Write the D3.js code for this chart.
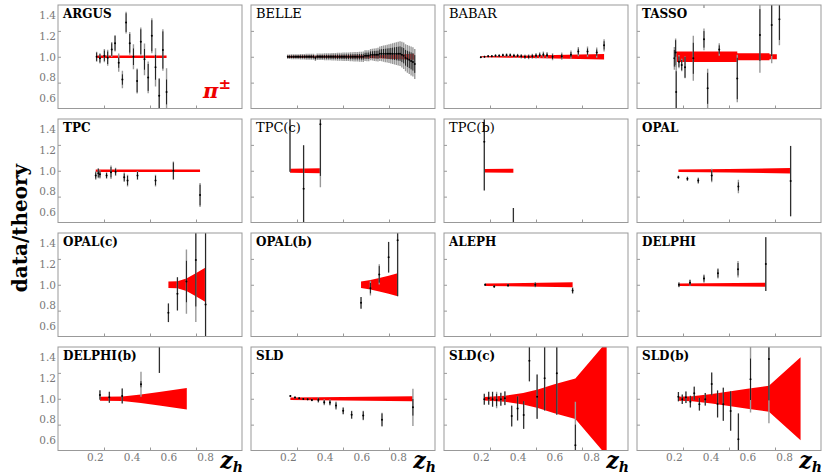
<!DOCTYPE html>
<html><head><meta charset="utf-8">
<script src="https://cdn.jsdelivr.net/npm/d3@7"></script>
<style>
body{margin:0;background:#fff;}
svg{display:block;}
</style></head><body>
<svg id="chart" width="830" height="475"></svg>
<script>
// points: [z, data/theory, stat err, total err]; bands: [z, half width]
var names = ['ARGUS','BELLE','BABAR','TASSO','TPC','TPC(c)','TPC(b)','OPAL',
             'OPAL(c)','OPAL(b)','ALEPH','DELPHI','DELPHI(b)','SLD','SLD(c)','SLD(b)'];
var boldTitle = [true, false, false, true, true, false, false, true,
                 true, true, true, true, true, true, true, true];
var xLabels = [0.2, 0.4, 0.6, 0.8];
var yLabels = [0.6, 0.8, 1.0, 1.2, 1.4];
var xTicks = [0.25, 0.5, 0.75];
var yTicks = [0.75, 1.0, 1.25];

var argus = [[0.21,1.00,0.04,0.048],[0.228,0.985,0.04,0.05],[0.252,1.01,0.05,0.064],[0.27,0.99,0.06,0.077],
  [0.292,1.07,0.06,0.072],[0.31,1.13,0.07,0.08],[0.33,0.943,0.05,0.089],[0.35,0.78,0.05,0.085],
  [0.37,1.33,0.09,0.105],[0.39,1.13,0.09,0.11],[0.41,1.0,0.08,0.12],[0.43,0.766,0.11,0.12],
  [0.45,1.145,0.12,0.137],[0.47,0.975,0.1,0.153],[0.49,0.80,0.13,0.153],[0.51,1.203,0.15,0.17],
  [0.53,0.898,0.12,0.185],[0.55,0.624,0.16,0.17],[0.57,1.065,0.18,0.2],[0.59,0.66,0.12,0.23]];
var argusBand = [[0.21,0.013],[0.59,0.013]];

var belle = [
  [0.20,1.00,0.012,0.022],[0.21,1.00,0.012,0.022],[0.22,1.00,0.012,0.023],[0.23,1.00,0.013,0.023],[0.24,1.00,0.013,0.024],
  [0.25,1.00,0.013,0.024],[0.26,1.00,0.014,0.025],[0.27,1.00,0.014,0.026],[0.28,1.00,0.014,0.027],[0.29,1.00,0.015,0.027],
  [0.30,1.00,0.015,0.028],[0.31,1.00,0.015,0.028],[0.32,1.00,0.016,0.029],[0.33,1.00,0.016,0.029],[0.34,1.00,0.016,0.030],
  [0.35,0.99,0.017,0.030],[0.36,1.00,0.017,0.031],[0.37,1.00,0.017,0.031],[0.38,1.00,0.018,0.032],[0.39,1.00,0.018,0.032],
  [0.40,1.00,0.018,0.033],[0.41,1.00,0.019,0.034],[0.42,1.00,0.019,0.034],[0.43,1.00,0.019,0.035],[0.44,1.00,0.020,0.036],
  [0.45,1.00,0.020,0.036],[0.46,1.00,0.020,0.037],[0.47,1.00,0.021,0.038],[0.48,1.00,0.021,0.038],[0.49,1.00,0.021,0.039],
  [0.50,1.00,0.022,0.040],[0.51,1.00,0.022,0.041],[0.52,1.00,0.023,0.041],[0.53,1.00,0.023,0.042],[0.54,1.00,0.024,0.043],
  [0.55,1.00,0.024,0.044],[0.56,1.00,0.025,0.045],[0.57,1.00,0.025,0.046],[0.58,1.00,0.026,0.047],[0.59,1.00,0.026,0.048],
  [0.60,1.00,0.027,0.049],[0.61,1.00,0.028,0.050],[0.62,1.01,0.029,0.052],[0.63,1.01,0.030,0.053],[0.64,1.01,0.031,0.054],
  [0.65,1.02,0.032,0.055],[0.66,1.02,0.033,0.057],[0.67,1.02,0.035,0.060],[0.68,1.02,0.037,0.063],[0.69,1.02,0.039,0.066],
  [0.70,1.03,0.041,0.070],[0.71,1.03,0.043,0.074],[0.72,1.03,0.045,0.078],[0.73,1.03,0.047,0.082],[0.74,1.03,0.050,0.086],
  [0.75,1.03,0.052,0.090],[0.76,1.03,0.055,0.095],[0.77,1.03,0.058,0.100],[0.78,1.03,0.061,0.105],[0.79,1.03,0.064,0.110],
  [0.80,1.03,0.067,0.115],[0.81,1.03,0.070,0.120],[0.82,1.02,0.072,0.125],[0.83,1.01,0.074,0.128],[0.84,0.99,0.076,0.131],
  [0.85,0.98,0.078,0.134],[0.86,0.97,0.080,0.137],[0.87,0.96,0.082,0.140],[0.88,0.95,0.084,0.142],[0.89,0.93,0.086,0.145]];
var belleBand = [[0.20,0.010],[0.50,0.013],[0.70,0.018],[0.89,0.030]];

var babar = [[0.20,0.995,0.006,0.008],[0.22,1.0,0.007,0.01],[0.24,1.005,0.008,0.012],[0.26,1.005,0.008,0.012],
  [0.28,1.01,0.01,0.014],[0.30,1.01,0.01,0.015],[0.32,1.015,0.011,0.016],[0.34,1.015,0.012,0.018],
  [0.36,1.015,0.012,0.018],[0.38,1.01,0.013,0.02],[0.40,1.01,0.013,0.02],[0.42,1.005,0.014,0.022],
  [0.44,1.0,0.014,0.022],[0.46,1.0,0.015,0.024],[0.48,1.005,0.016,0.025],[0.50,1.01,0.017,0.026],
  [0.52,1.015,0.018,0.028],[0.54,1.02,0.019,0.03],[0.56,1.015,0.019,0.03],[0.59,1.0,0.022,0.035],
  [0.64,1.005,0.022,0.035],[0.69,1.02,0.025,0.04],[0.73,1.05,0.028,0.045],[0.78,1.05,0.03,0.05],
  [0.83,1.04,0.03,0.05],[0.87,1.11,0.04,0.06]];
var babarBand = [[0.20,0.006],[0.40,0.01],[0.60,0.016],[0.87,0.026]];

var tasso = [[0.203,0.985,0.08,0.11],[0.21,1.04,0.12,0.137],[0.213,0.66,0.2,0.34],[0.228,0.952,0.05,0.064],
  [0.243,0.92,0.05,0.06],[0.261,0.898,0.1,0.105],[0.306,0.985,0.15,0.217],[0.364,1.168,0.08,0.105],
  [0.364,1.7,0.2,0.23],[0.384,0.695,0.15,0.19],[0.447,1.07,0.04,0.06],[0.545,0.79,0.2,0.23],
  [0.668,1.21,0.25,0.364],[0.732,1.307,0.3,0.37],[0.774,1.362,0.2,0.25]];
var tassoBand = [[0.213,0.05],[0.545,0.05],[0.545,0.035],[0.72,0.035],[0.72,0.025],[0.76,0.025]];

var tpc = [[0.205,0.954,0.03,0.04],[0.219,0.977,0.04,0.05],[0.228,0.965,0.03,0.04],[0.264,0.954,0.025,0.032],
  [0.288,0.986,0.05,0.065],[0.313,0.99,0.03,0.04],[0.36,0.937,0.035,0.045],[0.378,0.905,0.045,0.056],
  [0.432,0.954,0.035,0.044],[0.53,0.905,0.045,0.056],[0.627,1.0,0.08,0.09],[0.772,0.765,0.1,0.116]];
var tpcBand = [[0.205,0.012],[0.772,0.012]];

var tpcC = [[0.212,1.7,0.71,0.71],[0.286,0.826,0.42,0.42],[0.377,1.45,0.5,0.61]];
var tpcCBand = [[0.212,0.02],[0.377,0.025]];

var tpcB = [[0.219,1.28,0.47,0.47],[0.377,0.35,0.29,0.29]];
var tpcBBand = [[0.219,0.018],[0.377,0.02]];

var opal = [[0.225,0.938,0.012,0.016],[0.274,0.922,0.015,0.022],[0.333,0.905,0.022,0.03],
  [0.406,0.954,0.05,0.065],[0.551,0.848,0.04,0.065],[0.835,0.9,0.34,0.34]];
var opalBand = [[0.225,0.012],[0.5,0.016],[0.835,0.027]];

var opalC = [[0.6,0.729,0.09,0.09],[0.649,0.912,0.16,0.16],[0.698,1.031,0.2,0.31],
  [0.749,1.24,0.45,0.6],[0.802,0.809,1.0,1.0]];
var opalCBand = [[0.6,0.032],[0.649,0.035],[0.698,0.06],[0.749,0.11],[0.802,0.167]];

var opalB = [[0.598,0.825,0.056,0.056],[0.649,0.967,0.05,0.072],[0.697,1.1,0.08,0.097],
  [0.748,1.266,0.148,0.148],[0.797,1.43,0.54,0.54]];
var opalBBand = [[0.598,0.032],[0.649,0.045],[0.697,0.065],[0.748,0.088],[0.797,0.11]];

var aleph = [[0.224,1.0,0.01,0.012],[0.273,0.984,0.01,0.012],[0.348,0.994,0.012,0.015],
  [0.496,1.0,0.02,0.025],[0.699,0.944,0.025,0.032]];
var alephBand = [[0.224,0.012],[0.699,0.024]];

var delphi = [[0.228,1.0,0.02,0.025],[0.288,1.02,0.025,0.03],[0.364,1.06,0.03,0.04],
  [0.44,1.11,0.04,0.05],[0.549,1.15,0.06,0.08],[0.7,1.2,0.26,0.26]];
var delphiBand = [[0.228,0.012],[0.7,0.02]];

var delphiB = [[0.228,1.036,0.045,0.045],[0.279,1.014,0.053,0.053],[0.349,1.027,0.072,0.072],
  [0.451,1.14,0.03,0.12],[0.551,1.6,0.35,0.35]];
var delphiBBand = [[0.228,0.02],[0.35,0.022],[0.45,0.04],[0.55,0.065],[0.7,0.105]];

var sld = [[0.214,1.027,0.008,0.01],[0.239,1.011,0.008,0.01],[0.262,1.005,0.008,0.01],[0.284,0.998,0.008,0.01],
  [0.308,0.995,0.008,0.01],[0.331,0.988,0.01,0.012],[0.366,0.988,0.02,0.026],[0.398,0.966,0.02,0.028],
  [0.429,0.963,0.022,0.029],[0.462,0.934,0.03,0.04],[0.501,0.883,0.03,0.036],[0.547,0.845,0.035,0.04],
  [0.61,0.838,0.04,0.045],[0.712,0.797,0.06,0.068],[0.88,0.917,0.08,0.18]];
var sldBand = [[0.214,0.012],[0.5,0.018],[0.88,0.025]];

var sldC = [[0.219,0.995,0.05,0.055],[0.243,1.005,0.06,0.065],[0.264,0.995,0.07,0.074],[0.286,0.988,0.06,0.08],
  [0.309,0.995,0.06,0.065],[0.331,1.005,0.065,0.068],[0.368,0.833,0.1,0.1],[0.4,0.907,0.116,0.116],
  [0.433,0.843,0.134,0.134],[0.464,1.368,0.2,0.2],[0.506,1.02,0.214,0.214],[0.547,1.197,0.31,0.31],
  [0.613,1.246,0.4,0.4],[0.714,0.55,0.2,0.42]];
var sldCBand = [[0.219,0.018],[0.33,0.03],[0.43,0.055],[0.51,0.09],[0.6,0.14],[0.714,0.195],[0.884,0.55]];

var sldB = [[0.225,1.02,0.045,0.045],[0.246,0.995,0.045,0.045],[0.266,1.014,0.056,0.056],[0.29,0.972,0.056,0.056],
  [0.311,1.053,0.064,0.064],[0.339,0.947,0.061,0.061],[0.371,0.995,0.061,0.061],[0.406,1.143,0.11,0.11],
  [0.438,0.95,0.13,0.13],[0.469,0.947,0.16,0.16],[0.509,0.882,0.19,0.19],[0.551,0.608,0.25,0.25],
  [0.617,1.188,0.2,0.32],[0.717,1.384,0.4,0.62]];
var sldBBand = [[0.225,0.02],[0.3,0.025],[0.406,0.045],[0.5,0.07],[0.6,0.097],[0.717,0.125],[0.889,0.4]];

var points = [argus, belle, babar, tasso, tpc, tpcC, tpcB, opal, opalC, opalB, aleph, delphi, delphiB, sld, sldC, sldB];
var bands = [argusBand, belleBand, babarBand, tassoBand, tpcBand, tpcCBand, tpcBBand, opalBand,
             opalCBand, opalBBand, alephBand, delphiBand, delphiBBand, sldBand, sldCBand, sldBBand];

(function(){
    var svg = d3.select('#chart'),
        left0 = 58, top0 = 5,
        pw = 184, ph = 103.5,
        colStep = 193, rowStep = 114,
        serif = '"DejaVu Serif", serif';

    var x = d3.scaleLinear().domain([0, 1]).range([0, pw]);
    var y = d3.scaleLinear().domain([0.5, 1.5]).range([ph, 0]);

    var area = d3.area()
        .x(function(d) { return x(d[0]); })
        .y0(function(d) { return y(1 - d[1]); })
        .y1(function(d) { return y(1 + d[1]); });

    var panels = names.map(function(n, i) {
        return { name: n, i: i, col: i % 4, row: Math.floor(i / 4), bold: boldTitle[i], pts: points[i], band: bands[i] };
    });

    svg.append('defs').append('clipPath').attr('id', 'clip')
        .append('rect').attr('width', pw).attr('height', ph);

    var g = svg.selectAll('g.panel')
        .data(panels)
        .enter().append('g')
        .attr('class', 'panel')
        .attr('transform', function(d) {
            return 'translate(' + (left0 + d.col * colStep) + ',' + (top0 + d.row * rowStep) + ')';
        });

    var plot = g.append('g').attr('clip-path', 'url(#clip)');

    plot.append('path')
        .attr('d', function(d) { return area(d.band); })
        .attr('fill', '#ff0000');

    var pt = plot.selectAll('g.pt')
        .data(function(d) { return d.pts; })
        .enter().append('g')
        .attr('class', 'pt');

    pt.append('line')
        .attr('x1', function(d) { return x(d[0]); })
        .attr('x2', function(d) { return x(d[0]); })
        .attr('y1', function(d) { return y(d[1] - d[3]); })
        .attr('y2', function(d) { return y(d[1] + d[3]); })
        .attr('stroke', '#999')
        .attr('stroke-width', 1.4);

    pt.append('line')
        .attr('x1', function(d) { return x(d[0]); })
        .attr('x2', function(d) { return x(d[0]); })
        .attr('y1', function(d) { return y(d[1] - d[2]); })
        .attr('y2', function(d) { return y(d[1] + d[2]); })
        .attr('stroke', '#000')
        .attr('stroke-width', 0.8);

    pt.append('circle')
        .attr('cx', function(d) { return x(d[0]); })
        .attr('cy', function(d) { return y(d[1]); })
        .attr('r', 1)
        .attr('fill', '#000');

    // inward tick marks
    g.append('g')
        .attr('transform', 'translate(0,' + ph + ')')
        .call(d3.axisBottom(x).tickValues(xTicks).tickSize(-3).tickFormat(''));
    g.append('g')
        .call(d3.axisLeft(y).tickValues(yTicks).tickSize(-3).tickFormat(''));
    g.selectAll('.domain').remove();
    g.selectAll('.tick line').attr('stroke', '#999');

    g.append('rect')
        .attr('width', pw)
        .attr('height', ph)
        .attr('fill', 'none')
        .attr('stroke', '#999')
        .attr('stroke-width', 1);

    g.append('text')
        .attr('x', 5)
        .attr('y', 13)
        .attr('font-family', serif)
        .attr('font-weight', function(d) { return d.bold ? 'bold' : 'normal'; })
        .attr('font-size', function(d) { return d.bold ? 12 : 13; })
        .attr('fill', '#000')
        .text(function(d) { return d.name; });

    // tick labels on outer panels only
    g.filter(function(d) { return d.col === 0; })
        .append('g')
        .call(d3.axisLeft(y).tickValues(yLabels).tickSize(0).tickPadding(2).tickFormat(d3.format('.1f')))
        .call(function(a) {
            a.select('.domain').remove();
            a.selectAll('text').attr('font-family', serif).attr('font-size', 10.5).attr('fill', '#777');
        });

    var bottom = g.filter(function(d) { return d.row === 3; });
    bottom.append('g')
        .attr('transform', 'translate(0,' + ph + ')')
        .call(d3.axisBottom(x).tickValues(xLabels).tickSize(0).tickPadding(3).tickFormat(d3.format('.1f')))
        .call(function(a) {
            a.select('.domain').remove();
            a.selectAll('text').attr('font-family', serif).attr('font-size', 10.5).attr('fill', '#777');
        });

    var zl = bottom.append('text')
        .attr('x', pw + 1)
        .attr('y', ph + 17)
        .attr('text-anchor', 'end')
        .attr('font-family', serif)
        .attr('font-weight', 'bold')
        .attr('font-style', 'italic')
        .attr('font-size', 22)
        .attr('fill', '#000');
    zl.append('tspan').text('z');
    zl.append('tspan').attr('font-size', 14).attr('dy', 4).text('h');

    var pl = g.filter(function(d) { return d.i === 0; })
        .append('text')
        .attr('x', 145)
        .attr('y', 93)
        .attr('font-family', serif)
        .attr('font-weight', 'bold')
        .attr('fill', '#ee0000');
    pl.append('tspan').attr('font-size', 21).attr('font-style', 'italic').text('π');
    pl.append('tspan').attr('font-size', 15).attr('dy', -9).text('±');

    svg.append('text')
        .attr('transform', 'translate(27,228) rotate(-90)')
        .attr('text-anchor', 'middle')
        .attr('font-family', serif)
        .attr('font-weight', 'bold')
        .attr('font-size', 20)
        .attr('fill', '#000')
        .text('data/theory');
})();
</script></body></html>
